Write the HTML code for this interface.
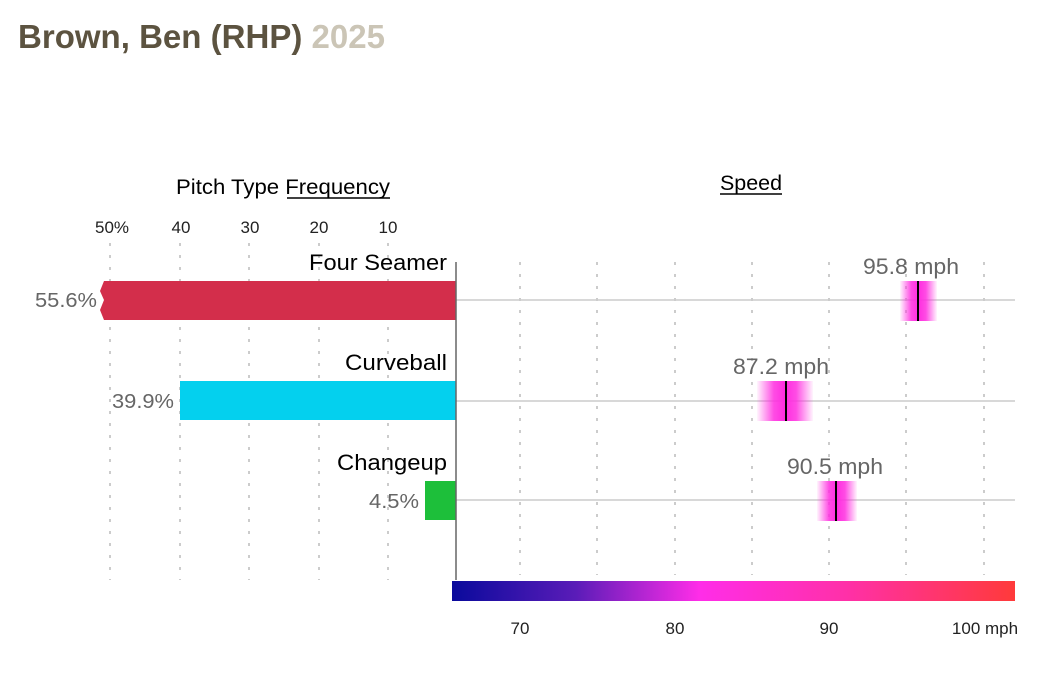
<!DOCTYPE html>
<html><head><meta charset="utf-8"><style>
body{margin:0;background:#fff;}
svg{display:block;font-family:"Liberation Sans",sans-serif;}
</style></head><body>
<svg width="1050" height="680" viewBox="0 0 1050 680">
<defs>
<linearGradient id="cb" x1="0" x2="1" y1="0" y2="0">
<stop offset="0" stop-color="#0a0a9c"/>
<stop offset="0.22" stop-color="#5a1cb8"/>
<stop offset="0.44" stop-color="#ff2de8"/>
<stop offset="0.7" stop-color="#ff30a8"/>
<stop offset="1" stop-color="#ff3a3a"/>
</linearGradient>
<linearGradient id="sp" x1="0" x2="1">
<stop offset="0" stop-color="#ff2de0" stop-opacity="0.05"/>
<stop offset="0.3" stop-color="#ff2de0" stop-opacity="0.85"/>
<stop offset="0.5" stop-color="#ff2de0" stop-opacity="1"/>
<stop offset="0.7" stop-color="#ff2de0" stop-opacity="0.85"/>
<stop offset="1" stop-color="#ff2de0" stop-opacity="0.05"/>
</linearGradient>
</defs>
<text x="18" y="48" font-size="33" font-weight="bold" fill="#5c5340" textLength="367" lengthAdjust="spacingAndGlyphs">Brown, Ben (RHP) <tspan fill="#cbc5b6">2025</tspan></text>

<text x="176" y="194" font-size="21" fill="#000" textLength="214" lengthAdjust="spacingAndGlyphs">Pitch Type Frequency</text>
<line x1="287" y1="198" x2="390" y2="198" stroke="#000" stroke-width="1.5"/>
<text x="720" y="190" font-size="21" fill="#000" textLength="62" lengthAdjust="spacingAndGlyphs">Speed</text>
<line x1="720" y1="194" x2="782" y2="194" stroke="#000" stroke-width="1.5"/>

<g font-size="17" fill="#222" text-anchor="middle">
<text x="112" y="233">50%</text><text x="181" y="233">40</text><text x="250" y="233">30</text><text x="319" y="233">20</text><text x="388" y="233">10</text>
</g>
<g stroke="#bbb" stroke-width="1.5" stroke-dasharray="3,9">
<line x1="110" y1="243" x2="110" y2="580"/><line x1="180" y1="243" x2="180" y2="580"/><line x1="249" y1="243" x2="249" y2="580"/><line x1="319" y1="243" x2="319" y2="580"/><line x1="388" y1="243" x2="388" y2="580"/>
<line x1="520" y1="262" x2="520" y2="575"/><line x1="597" y1="262" x2="597" y2="575"/><line x1="675" y1="262" x2="675" y2="575"/><line x1="752" y1="262" x2="752" y2="575"/><line x1="829" y1="262" x2="829" y2="575"/><line x1="906" y1="262" x2="906" y2="575"/><line x1="984" y1="262" x2="984" y2="575"/>
</g>
<g stroke="#ccc" stroke-width="1.5">
<line x1="456" y1="300" x2="1015" y2="300"/><line x1="456" y1="401" x2="1015" y2="401"/><line x1="456" y1="500" x2="1015" y2="500"/>
</g>

<polygon points="456,281 104,281 100,291 104,300 100,310 104,320 456,320" fill="#d32e4b"/>
<rect x="180" y="381" width="276" height="39" fill="#04d0ee"/>
<rect x="425" y="481" width="31" height="39" fill="#1dbf3a"/>
<line x1="456" y1="262" x2="456" y2="580" stroke="#666" stroke-width="1.5"/>

<g font-size="22" fill="#000" text-anchor="end">
<text x="447" y="270" textLength="138" lengthAdjust="spacingAndGlyphs">Four Seamer</text>
<text x="447" y="370" textLength="102" lengthAdjust="spacingAndGlyphs">Curveball</text>
<text x="447" y="470" textLength="110" lengthAdjust="spacingAndGlyphs">Changeup</text>
</g>
<g font-size="20" fill="#666" text-anchor="end">
<text x="97" y="307" textLength="62" lengthAdjust="spacingAndGlyphs">55.6%</text>
<text x="174" y="408" textLength="62" lengthAdjust="spacingAndGlyphs">39.9%</text>
<text x="419" y="508" textLength="50" lengthAdjust="spacingAndGlyphs">4.5%</text>
</g>

<rect x="900" y="281" width="37" height="40" fill="url(#sp)"/>
<rect x="757" y="381" width="56" height="40" fill="url(#sp)"/>
<rect x="817" y="481" width="40" height="40" fill="url(#sp)"/>
<g stroke="#000" stroke-width="2">
<line x1="918" y1="281" x2="918" y2="321"/><line x1="786" y1="381" x2="786" y2="421"/><line x1="836" y1="481" x2="836" y2="521"/>
</g>
<g font-size="22" fill="#666" text-anchor="middle">
<text x="911" y="274" textLength="96" lengthAdjust="spacingAndGlyphs">95.8 mph</text>
<text x="781" y="374" textLength="96" lengthAdjust="spacingAndGlyphs">87.2 mph</text>
<text x="835" y="474" textLength="96" lengthAdjust="spacingAndGlyphs">90.5 mph</text>
</g>

<rect x="452" y="581" width="563" height="20" fill="url(#cb)"/>
<g font-size="17" fill="#222" text-anchor="middle">
<text x="520" y="634">70</text><text x="675" y="634">80</text><text x="829" y="634">90</text><text x="985" y="634">100 mph</text>
</g>
</svg>
</body></html>
